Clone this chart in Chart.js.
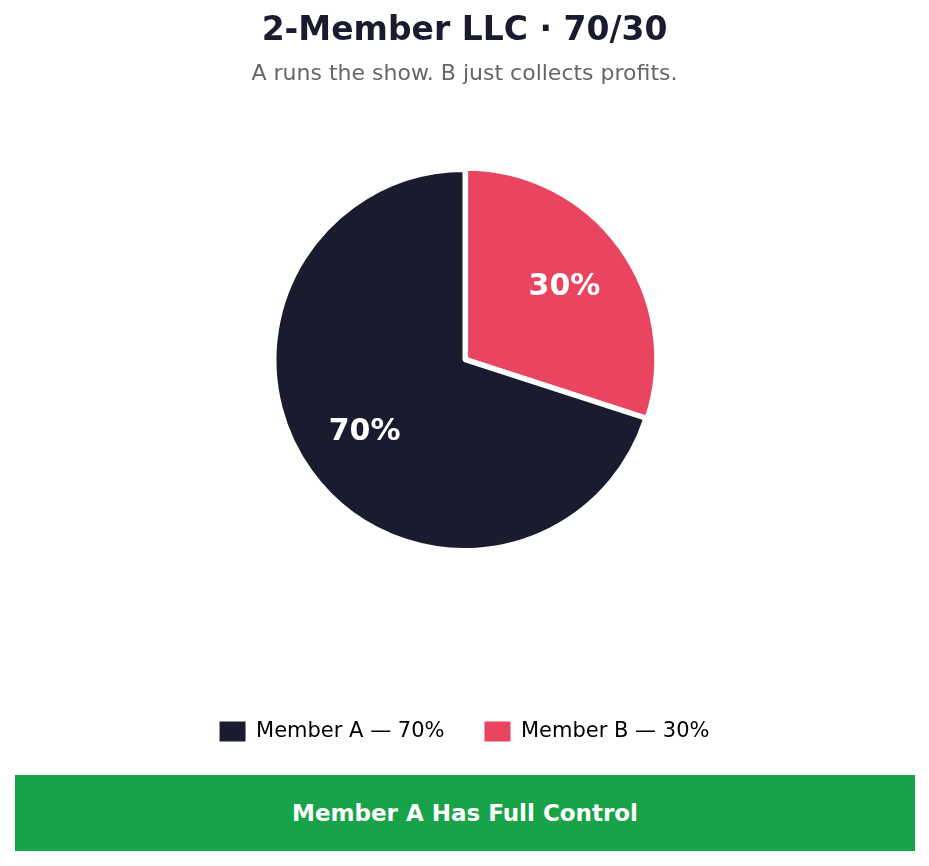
<!DOCTYPE html>
<html>
<head>
<meta charset="utf-8">
<script src="https://cdn.jsdelivr.net/npm/chart.js@4"></script>
<style>
  body { margin: 0; background: #fff; font-family: "DejaVu Sans", sans-serif; }
  #wrap { position: absolute; left: 0; top: 0; width: 929px; height: 752px; }
  #banner {
    position: absolute; left: 15px; top: 775px; width: 900px; height: 76px;
    background: #18a349; color: #fff; font-weight: bold; font-size: 23px;
    display: flex; align-items: center; justify-content: center;
  }
</style>
</head>
<body>
<div id="wrap"><canvas id="myChart"></canvas></div>
<div id="banner">Member A Has Full Control</div>
<script>
const labels = ['Member A — 70%', 'Member B — 30%'];
const shares = [70, 30];
const sliceLabels = ['70%', '30%'];
const colors = ['#1a1b2e', '#e94560'];

// draws the percentage text inside each slice
const sliceText = {
  id: 'sliceText',
  afterDatasetsDraw(chart) {
    const ctx = chart.ctx;
    const meta = chart.getDatasetMeta(0);
    ctx.save();
    ctx.fillStyle = '#fff';
    ctx.font = 'bold 30px "DejaVu Sans"';
    ctx.textAlign = 'center';
    ctx.textBaseline = 'middle';
    meta.data.forEach(function (arc, i) {
      const p = arc.getProps(['startAngle', 'endAngle', 'outerRadius', 'x', 'y']);
      const mid = (p.startAngle + p.endAngle) / 2;
      const r = p.outerRadius * 0.65;
      ctx.fillText(sliceLabels[i], p.x + Math.cos(mid) * r, p.y + Math.sin(mid) * r);
    });
    ctx.restore();
  }
};

const defaultLabels = Chart.overrides.pie.plugins.legend.labels.generateLabels;

const data = {
  labels: labels,
  datasets: [{
    data: shares,
    backgroundColor: colors,
    borderColor: '#fff',
    borderWidth: 4,
    offset: [0, 8],
    radius: 190
  }]
};

const options = {
  responsive: true,
  maintainAspectRatio: false,
  animation: false,
  rotation: 108,
  plugins: {
    title: {
      display: true,
      text: '2-Member LLC · 70/30',
      color: '#1a1b2e',
      font: { size: 33, weight: 'bold', family: '"DejaVu Sans"' },
      padding: { top: 12, bottom: 9 }
    },
    subtitle: {
      display: true,
      text: 'A runs the show. B just collects profits.',
      color: '#666',
      font: { size: 22, family: '"DejaVu Sans"' },
      padding: { bottom: 9 }
    },
    legend: {
      position: 'bottom',
      title: { display: true, text: '', font: { size: 10 }, padding: { top: 45, bottom: 0 } },
      labels: {
        boxWidth: 26,
        boxHeight: 20,
        padding: 40,
        color: '#000',
        font: { size: 21, family: '"DejaVu Sans"' },
        generateLabels: function (chart) {
          return defaultLabels(chart).map(function (item) {
            item.lineWidth = 0;
            return item;
          });
        }
      }
    },
    tooltip: { enabled: false }
  }
};

const config = {
  type: 'pie',
  data: data,
  options: options,
  plugins: [sliceText]
};

const myChart = new Chart(document.getElementById('myChart'), config);
</script>
</body>
</html>
